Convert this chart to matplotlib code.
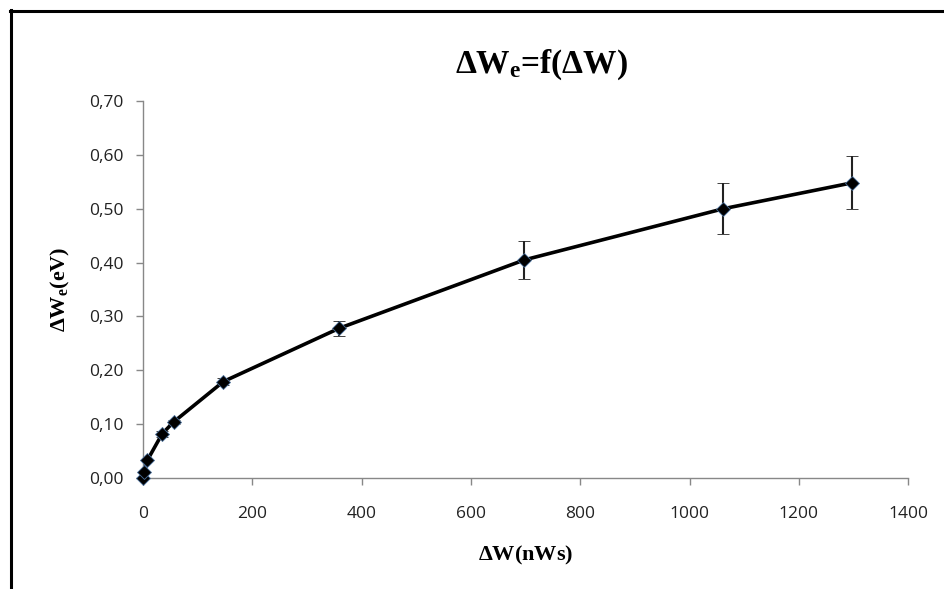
import matplotlib.pyplot as plt
from matplotlib.ticker import FuncFormatter, MultipleLocator
from matplotlib.lines import Line2D

plt.rcParams['mathtext.fontset'] = 'custom'
plt.rcParams['mathtext.rm'] = 'Liberation Serif:bold'
plt.rcParams['mathtext.bf'] = 'Liberation Serif:bold'
plt.rcParams['mathtext.it'] = 'Liberation Serif:bold'

# --- data ---
dW = [0, 2, 8, 35, 56, 147, 359, 698, 1062, 1297]
dWe = [0.000, 0.011, 0.033, 0.082, 0.104, 0.179, 0.278, 0.405, 0.500, 0.548]
err = [0.0, 0.0, 0.0, 0.005, 0.003, 0.006, 0.014, 0.035, 0.047, 0.049]

fig = plt.figure(figsize=(9.44, 5.89), dpi=100)
ax = fig.add_axes([0.1515, 0.1885, 0.962 - 0.1515, 0.8285 - 0.1885])

markers, caps, bars = ax.errorbar(dW, dWe, yerr=err, color='black', linewidth=2.6,
                                  marker='D', markersize=7.5, markerfacecolor='black',
                                  markeredgecolor='#4a6f9a', markeredgewidth=0.6,
                                  ecolor='#222222', elinewidth=1.5, capsize=4, capthick=1.5,
                                  zorder=3)
markers.set_clip_on(False)

ax.set_xlim(0, 1400)
ax.set_ylim(0, 0.70)
ax.xaxis.set_major_locator(MultipleLocator(200))
ax.yaxis.set_major_locator(MultipleLocator(0.10))
ax.yaxis.set_major_formatter(FuncFormatter(lambda v, p: f'{v:.2f}'.replace('.', ',')))

for s in ['top', 'right']:
    ax.spines[s].set_visible(False)
for s in ['left', 'bottom']:
    ax.spines[s].set_color('#888888')
    ax.spines[s].set_linewidth(1.0)
ax.tick_params(axis='both', colors='#888888', length=5, width=1.0,
               labelcolor='#222222', labelsize=12.5)
ax.tick_params(axis='x', pad=15)
ax.tick_params(axis='y', pad=9)
for lab in ax.get_xticklabels() + ax.get_yticklabels():
    lab.set_family('Open Sans')

serif = {'family': 'Liberation Serif', 'weight': 'bold'}
fig.text(0.573, 0.89, r'$\Delta W_e$=f($\Delta$W)', ha='center', va='center',
         fontsize=24, **serif)
ax.set_xlabel(r'$\Delta$W(nWs)', fontsize=16, labelpad=16, **serif)
ax.set_ylabel(r'$\Delta W_e$(eV)', fontsize=16, labelpad=12, **serif)

# frame around the chart area (cropped Excel chart)
fig.add_artist(Line2D([10.5 / 944, 10.5 / 944], [0, 1 - 10 / 589], transform=fig.transFigure,
                      color='black', linewidth=2.2))
fig.add_artist(Line2D([10 / 944, 1], [1 - 10.5 / 589, 1 - 10.5 / 589], transform=fig.transFigure,
                      color='black', linewidth=2.2))

fig.savefig('out.png', dpi=100)
